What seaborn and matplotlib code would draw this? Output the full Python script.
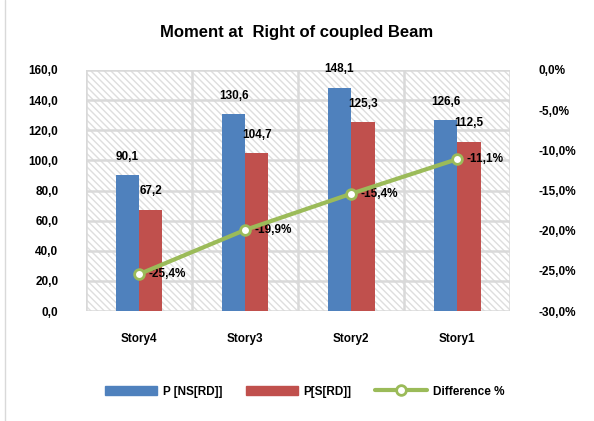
import numpy as np
import pandas as pd
import matplotlib
matplotlib.use("Agg")
import matplotlib.pyplot as plt
from matplotlib.patches import Patch, Rectangle
from matplotlib.lines import Line2D
from matplotlib.ticker import FuncFormatter, FixedLocator
import seaborn as sns

# data
stories = ["Story4", "Story3", "Story2", "Story1"]
p_ns = [90.1, 130.6, 148.1, 126.6]
p_s = [67.2, 104.7, 125.3, 112.5]
diff = [-25.4, -19.9, -15.4, -11.1]
series = ["P [NS[RD]]", "P[S[RD]]"]

blue, red, green = "#4F81BD", "#C0504D", "#9BBB59"

sns.set_style("white")
plt.rcParams["font.family"] = ["Liberation Sans", "DejaVu Sans"]
plt.rcParams["font.weight"] = "bold"
plt.rcParams["text.color"] = "black"
plt.rcParams["xtick.color"] = "black"
plt.rcParams["ytick.color"] = "black"
plt.rcParams["hatch.color"] = "#DEDEDE"
plt.rcParams["hatch.linewidth"] = 1.0

df = pd.DataFrame({
    "story": stories * 2,
    "value": p_ns + p_s,
    "series": [series[0]] * 4 + [series[1]] * 4,
})

fig = plt.figure(figsize=(5.94, 4.21), dpi=100)
ax = fig.add_axes([0.145, 0.261, 0.714, 0.573])

# hatched background of the plot area
ax.add_patch(Rectangle((0, 0), 1, 1, transform=ax.transAxes, facecolor="white",
                       edgecolor="#DEDEDE", hatch="\\\\\\\\\\", lw=0, zorder=0))

sns.barplot(data=df, x="story", y="value", hue="series", palette=[blue, red],
            width=0.44, ax=ax, legend=False, zorder=3, saturation=1, linewidth=0)

fmt = lambda v: f"{v:.1f}".replace(".", ",")
for cont in ax.containers:
    ax.bar_label(cont, labels=[fmt(v) for v in cont.datavalues], padding=9,
                 fontsize=8.5, fontweight="bold")

ax.set_ylim(0, 160)
ax.set_yticks(np.arange(0, 161, 20))
ax.yaxis.set_major_formatter(FuncFormatter(lambda v, p: fmt(v)))
ax.set_xlim(-0.5, len(stories) - 0.5)
ax.xaxis.set_minor_locator(FixedLocator(np.arange(-0.5, len(stories), 1.0)))
ax.grid(axis="y", which="major", color="#D9D9D9", lw=1.8, zorder=1)
ax.grid(axis="x", which="minor", color="#D9D9D9", lw=1.8, zorder=1)
ax.set_axisbelow(True)
for s in ax.spines.values():
    s.set_visible(False)
ax.set_xlabel("")
ax.set_ylabel("")
ax.tick_params(axis="both", which="both", length=0, labelsize=8.5)
ax.tick_params(axis="y", pad=20)
ax.tick_params(axis="x", pad=16)
for t in ax.get_xticklabels() + ax.get_yticklabels():
    t.set_fontweight("bold")

ax2 = ax.twinx()
xs = np.arange(len(stories))
sns.lineplot(x=xs, y=diff, ax=ax2, color=green, lw=3, marker="o", markersize=7,
             markerfacecolor="white", markeredgecolor=green, markeredgewidth=2,
             zorder=5)
for x, d in zip(xs, diff):
    ax2.annotate(fmt(d) + "%", (x, d), xytext=(7, 0), textcoords="offset points",
                 ha="left", va="center", fontsize=8.5, fontweight="bold")
ax2.set_ylim(-30, 0)
ax2.set_yticks(np.arange(-30, 1, 5))
ax2.yaxis.set_major_formatter(FuncFormatter(lambda v, p: fmt(v) + "%"))
ax2.tick_params(axis="y", length=0, pad=20, labelsize=8.5)
for t in ax2.get_yticklabels():
    t.set_fontweight("bold")
for s in ax2.spines.values():
    s.set_visible(False)

fig.suptitle("Moment at  Right of coupled Beam", x=0.5, y=0.94,
             fontsize=12, fontweight="bold")

handles = [Patch(color=blue, label=series[0]), Patch(color=red, label=series[1]),
           Line2D([], [], color=green, lw=3, marker="o", markersize=7,
                  markerfacecolor="white", markeredgecolor=green,
                  markeredgewidth=2, label="Difference %")]
fig.legend(handles=handles, loc="center", bbox_to_anchor=(0.513, 0.07), ncol=3,
           frameon=False, handlelength=4.4, handleheight=0.7,
           handletextpad=0.5, columnspacing=2.0,
           prop={"weight": "bold", "size": 8.5})

fig.add_artist(Line2D([0.009, 0.009], [0, 1], color="#D9D9D9", lw=1,
                      transform=fig.transFigure))

fig.savefig("out.png", dpi=100)
